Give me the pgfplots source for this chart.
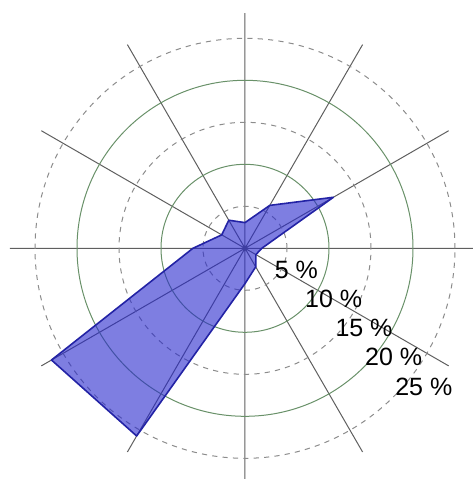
\documentclass[border=0pt]{standalone}
\usepackage{fontspec}
\setmainfont{Liberation Sans}
\usepackage{pgfplots}
\pgfplotsset{compat=1.18}
\usepgfplotslibrary{polar}
\definecolor{spoke}{RGB}{95,95,95}
\definecolor{ringg}{RGB}{105,145,105}
\definecolor{ringd}{RGB}{140,140,140}
\definecolor{fillb}{RGB}{40,40,205}
\definecolor{edgeb}{RGB}{35,35,165}
\begin{document}
\begin{tikzpicture}
\begin{polaraxis}[
  scale only axis,
  width=235.2pt, height=235.2pt,
  ymin=0, ymax=28,
  xtick={0,30,...,330},
  ytick={10,20},
  minor ytick={5,15,25},
  xticklabels={}, yticklabels={},
  grid=both,
  major x grid style={spoke, line width=0.5pt},
  major y grid style={ringg, line width=0.5pt},
  minor y grid style={ringd, line width=0.5pt, dash pattern=on 2.6pt off 2.6pt},
  axis line style={draw=none},
  major tick length=0pt, minor tick length=0pt,
]
\addplot[draw=edgeb, line width=0.8pt, fill=fillb, fill opacity=0.6, line join=round] coordinates {
  (0,2.0) (30,12.15) (60,5.9) (90,3.06) (120,3.86) (150,3.2)
  (180,6.2) (210,26.6) (240,25.8) (270,4.2) (300,2.55) (330,1.5) (360,2.0)
};
\coordinate (c) at (axis cs:0,0);
\end{polaraxis}
\begin{scope}[font=\fontsize{12.5}{14}\selectfont]
\node at ([shift={(25.65pt,-11pt)}]c) {5 \%};
\node at ([shift={(44.35pt,-25.35pt)}]c) {10 \%};
\node at ([shift={(59.5pt,-39.85pt)}]c) {15 \%};
\node at ([shift={(74.35pt,-54.2pt)}]c) {20 \%};
\node at ([shift={(89.4pt,-69.2pt)}]c) {25 \%};
\end{scope}
\pgfresetboundingbox
\path[use as bounding box] ([shift={(-122.5pt,124.15pt)}]c) rectangle ([shift={(114pt,-115.35pt)}]c);
\end{tikzpicture}
\end{document}
